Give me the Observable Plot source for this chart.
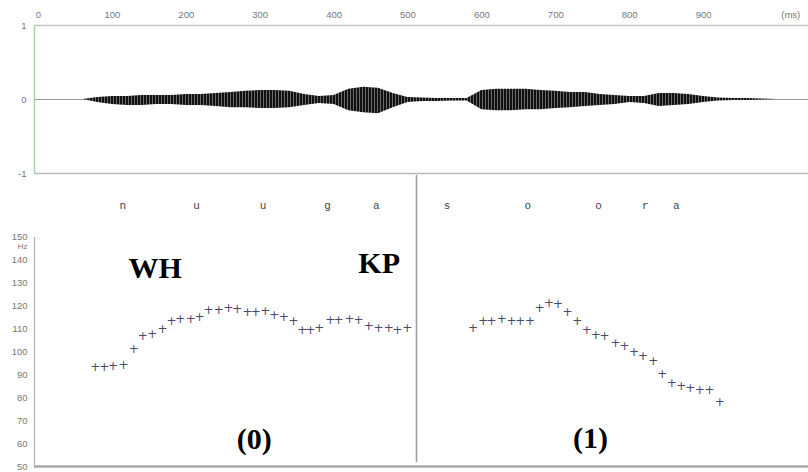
<!DOCTYPE html>
<html>
<head>
<meta charset="utf-8">
<script src="https://cdn.jsdelivr.net/npm/d3@7"></script>
<script src="https://cdn.jsdelivr.net/npm/@observablehq/plot@0.6"></script>
<style>
  html, body { margin: 0; padding: 0; background: #fff; }
  #chart { width: 808px; height: 472px; overflow: hidden; background: #fff; }
  #chart svg { display: block; overflow: visible; }
</style>
</head>
<body>
<div id="chart"></div>
<script>
// ---- Data ----
// Time axis ticks (ms)
const timeTicks = [0, 100, 200, 300, 400, 500, 600, 700, 800, 900];
const ampTicks = [-1, 0, 1];
const hzTicks = [50, 60, 70, 80, 90, 100, 110, 120, 130, 140, 150];

// Waveform envelope (ms, upper / lower amplitude)
const waveTime = [60, 80, 100, 120, 140, 160, 180, 200, 220, 240, 260, 280, 300, 320, 340, 360,
  380, 400, 420, 440, 460, 480, 500, 520, 540, 560, 580, 600, 620, 640, 660, 680,
  700, 720, 740, 760, 780, 800, 820, 840, 860, 880, 900, 920, 940, 960, 980, 1000];
const waveUpper = [0, .027, .041, .041, .055, .055, .055, .068, .068, .082, .096, .11, .123, .123, .11, .068,
  .041, .055, .137, .164, .151, .082, .027, .021, .014, .014, .014, .123, .137, .137, .137, .123,
  .11, .096, .096, .068, .055, .041, .041, .082, .082, .068, .041, .021, .014, .014, .007, 0];
const waveLower = [0, .041, .068, .082, .082, .068, .068, .082, .082, .096, .11, .11, .123, .123, .11, .082,
  .055, .068, .151, .178, .192, .11, .041, .027, .027, .021, .021, .137, .151, .151, .137, .137,
  .123, .11, .096, .082, .068, .041, .055, .096, .082, .068, .041, .021, .014, .014, .007, 0];

// Pitch track (0): WH ... KP
const pitch0Time = [77, 89, 101, 115, 129, 141, 154, 168, 180, 192, 206, 218, 230, 244, 257, 269, 283,
  294, 307, 319, 332, 345, 357, 368, 380, 395, 406, 421, 433, 447, 460, 474, 486, 499];
const pitch0Hz = [93.4, 93.4, 93.6, 94.3, 101.4, 106.8, 107.6, 110.1, 113.3, 114.1, 114.2, 115.2, 118.4,
  118.4, 118.9, 118.6, 117.4, 117.4, 117.7, 116.2, 115.2, 113.3, 109.4, 109.7, 110.2, 113.8, 113.8,
  114.5, 113.8, 111.3, 110.4, 110.2, 109.7, 110.2];

// Pitch track (1)
const pitch1Time = [588, 602, 613, 627, 640, 652, 665, 678, 691, 703, 716, 729, 742, 754, 766, 781, 793,
  806, 818, 832, 844, 857, 870, 882, 895, 908, 922];
const pitch1Hz = [110.2, 113.3, 113.3, 114.1, 113.3, 113.3, 113.3, 119.3, 121.3, 121.0, 117.4, 113.3,
  109.7, 107.5, 106.8, 104.0, 102.4, 99.9, 98.0, 95.9, 90.5, 86.4, 85.1, 84.4, 83.2, 83.2, 78.1];

// Segment labels
const segLabels = ["n", "u", "u", "g", "a", "s", "o", "o", "r", "a"];
const segTime = [114, 214, 304, 391, 457, 553, 662, 758, 821, 863];

// Annotations
const annText = ["WH", "KP", "(0)", "(1)"];
const annTime = [158, 461, 292, 747];
const annHz = [136.4, 138.6, 61.8, 62.2];

const boundaryTime = 511.5;

// ---- Build ----
const xDomain = [-5.4, 1042];
const wave = waveTime.map((t, i) => ({t, hi: waveUpper[i], lo: -waveLower[i]}));
const pitch = [
  ...pitch0Time.map((t, i) => ({t, hz: pitch0Hz[i]})),
  ...pitch1Time.map((t, i) => ({t, hz: pitch1Hz[i]}))
];
const segs = segLabels.map((s, i) => ({s, t: segTime[i]}));
const anns = annText.map((s, i) => ({s, t: annTime[i], hz: annHz[i]}));

const wavePlot = Plot.plot({
  width: 808, height: 175,
  marginTop: 25, marginBottom: 2, marginLeft: 34, marginRight: 0,
  x: {domain: xDomain, label: null},
  y: {domain: [-1, 1], label: null},
  style: {fontFamily: "Liberation Sans, Arial, sans-serif", color: "#777", background: "transparent"},
  marks: [
    Plot.ruleY([1], {stroke: "#c4c4c4", strokeWidth: 1.5}),
    Plot.ruleY([-1], {stroke: "#b8b8b8", strokeWidth: 1.5}),
    Plot.ruleY([0], {stroke: "#8fa68f", strokeWidth: 1.2}),
    Plot.ruleX([xDomain[0]], {y1: -1, y2: 1, stroke: "#a6d6a0", strokeWidth: 1.5}),
    Plot.areaY(wave, {x: "t", y1: "lo", y2: "hi", fill: "#1a1a1a", curve: "linear"}),
    Plot.axisX({anchor: "top", ticks: timeTicks, tickSize: 0, tickPadding: 8, fontSize: 9.5, label: null, tickFormat: d => String(d)}),
    Plot.text(["(ms)"], {x: [1018], frameAnchor: "top", dy: -8, lineAnchor: "bottom", fontSize: 9.5, fill: "#777"}),
    Plot.axisY({ticks: ampTicks, tickSize: 0, tickPadding: 8, fontSize: 9.5, label: null, tickFormat: d => String(d)})
  ]
});

// striated texture for the waveform body
{
  const ns = "http://www.w3.org/2000/svg";
  const defs = document.createElementNS(ns, "defs");
  const pat = document.createElementNS(ns, "pattern");
  pat.setAttribute("id", "wavetex");
  pat.setAttribute("patternUnits", "userSpaceOnUse");
  pat.setAttribute("width", "3");
  pat.setAttribute("height", "5");
  const r1 = document.createElementNS(ns, "rect");
  r1.setAttribute("width", "3"); r1.setAttribute("height", "5"); r1.setAttribute("fill", "#111");
  const r2 = document.createElementNS(ns, "rect");
  r2.setAttribute("x", "2"); r2.setAttribute("width", "1"); r2.setAttribute("height", "5"); r2.setAttribute("fill", "#6a6a6a");
  pat.appendChild(r1); pat.appendChild(r2);
  defs.appendChild(pat);
  wavePlot.insertBefore(defs, wavePlot.firstChild);
  d3.select(wavePlot).selectAll("g[aria-label='area'] path").attr("fill", "url(#wavetex)");
}

const pitchPlot = Plot.plot({
  width: 808, height: 297,
  marginTop: 0, marginBottom: 6, marginLeft: 34, marginRight: 0,
  x: {domain: xDomain, axis: null},
  y: {domain: [50, 177], label: null},
  style: {fontFamily: "Liberation Sans, Arial, sans-serif", color: "#777", background: "transparent"},
  marks: [
    Plot.ruleX([xDomain[0]], {y1: 50, y2: 150, stroke: "#b0b0b0", strokeWidth: 1.2}),
    Plot.ruleY([50], {stroke: "#a8a8a8", strokeWidth: 2.5}),
    Plot.ruleX([boundaryTime], {y1: 51.7, y2: 177, stroke: "#9a9a9a", strokeWidth: 1.5}),
    Plot.axisY({ticks: hzTicks, tickSize: 0, tickPadding: 7, fontSize: 9.5, label: null, tickFormat: d => String(d)}),
    Plot.text(["Hz"], {frameAnchor: "left", y: [146.2], dx: -7, textAnchor: "end", fontSize: 8, fill: "#777"}),
    Plot.text(segs, {x: "t", y: () => 163.9, text: "s", fontFamily: "Liberation Mono, monospace", fontSize: 11, fill: "#444"}),
    Plot.text(pitch, {x: "t", y: "hz", text: () => "+", fontFamily: "DejaVu Sans, sans-serif", fontSize: 12, fill: "#4a4a66"}),
    Plot.text(anns, {x: "t", y: "hz", text: "s", fontFamily: "Liberation Serif, Times New Roman, serif", fontWeight: "bold", fontSize: 30, fill: "#000"})
  ]
});

const el = document.getElementById("chart");
el.appendChild(wavePlot);
el.appendChild(pitchPlot);
</script>
</body>
</html>
